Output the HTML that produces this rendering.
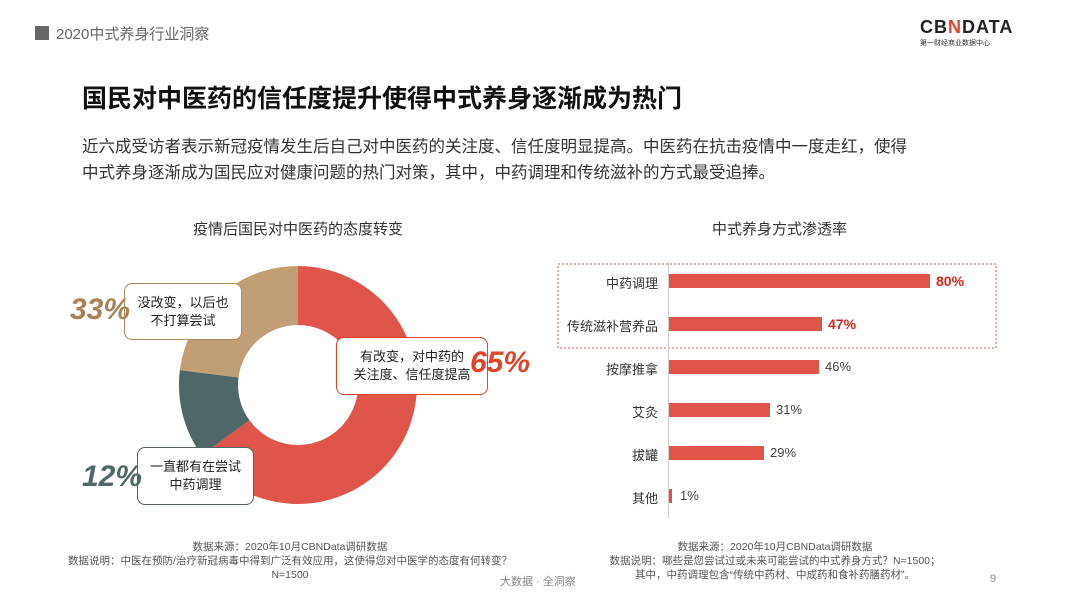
<!DOCTYPE html>
<html><head><meta charset="utf-8"><style>
body{margin:0;width:1080px;height:606px;background:#fff;position:relative;overflow:hidden;font-family:"Liberation Sans","Noto Sans CJK SC",sans-serif;color:#222}
.a{position:absolute;white-space:nowrap}
.box{position:absolute;background:#fff;border-radius:8px;text-align:center;font-size:13px;line-height:18px;color:#222;display:flex;align-items:center;justify-content:center}
.pct{position:absolute;font-style:italic;font-weight:bold;font-size:30px}
.lab{position:absolute;right:422px;font-size:13px;color:#333;text-align:right}
.bar{position:absolute;left:669px;height:14px;background:#e0544a}
.val{position:absolute;font-size:13px;color:#444}
.note{position:absolute;font-size:10.5px;color:#555;text-align:center;line-height:14px}
</style></head><body>
<div class="a" style="left:35px;top:26px;width:14px;height:14px;background:#666"></div>
<div class="a" style="left:56px;top:23px;font-size:15px;color:#666">2020中式养身行业洞察</div>
<div class="a" style="left:920px;top:17px;font-size:18px;font-weight:bold;letter-spacing:1px;color:#222">CB<span style="color:#e0442a">N</span>DATA</div>
<div class="a" style="left:920px;top:38px;font-size:7px;color:#333">第一财经商业数据中心</div>
<div class="a" style="left:82px;top:79px;font-size:25px;font-weight:bold;color:#111">国民对中医药的信任度提升使得中式养身逐渐成为热门</div>
<div class="a" style="left:82px;top:134px;font-size:16.5px;line-height:26px;color:#333">近六成受访者表示新冠疫情发生后自己对中医药的关注度、信任度明显提高。中医药在抗击疫情中一度走红，使得<br>中式养身逐渐成为国民应对健康问题的热门对策，其中，中药调理和传统滋补的方式最受追捧。</div>
<div class="a" style="left:193px;top:218px;font-size:15px;color:#333">疫情后国民对中医药的态度转变</div>
<div class="a" style="left:712px;top:218px;font-size:15px;color:#333">中式养身方式渗透率</div>
<svg class="a" style="left:0;top:0" width="1080" height="606">
<path d="M298 266 A119 119 0 1 1 201.7 455 L249.5 420.3 A60 60 0 1 0 298 325Z" fill="#df5549"/>
<path d="M201.7 455 A119 119 0 0 1 179.9 370.1 L238.5 377.5 A60 60 0 0 0 249.5 420.3Z" fill="#4f6766"/>
<path d="M179.9 370.1 A119 119 0 0 1 298 266 L298 325 A60 60 0 0 0 238.5 377.5Z" fill="#c19f74"/>
<rect x="558" y="264" width="438" height="84" fill="none" stroke="#e0544a" stroke-dasharray="2,2"/>
<line x1="668.5" y1="262" x2="668.5" y2="518" stroke="#ccc"/>
</svg>
<div class="box" style="left:124px;top:283px;width:116px;height:55px;border:1.5px solid #b08a5c">没改变，以后也<br>不打算尝试</div>
<div class="pct" style="left:70px;top:293px;color:#a88157">33%</div>
<div class="box" style="left:336px;top:337px;width:150px;height:56px;border:1.5px solid #e0442a">有改变，对中药的<br>关注度、信任度提高</div>
<div class="pct" style="left:470px;top:346px;color:#e0442a">65%</div>
<div class="box" style="left:137px;top:447px;width:115px;height:56px;border:1.5px solid #4f6766">一直都有在尝试<br>中药调理</div>
<div class="pct" style="left:82px;top:460px;color:#4f6766">12%</div>
<div class="lab" style="top:273px">中药调理</div>
<div class="lab" style="top:316px">传统滋补营养品</div>
<div class="lab" style="top:359px">按摩推拿</div>
<div class="lab" style="top:402px">艾灸</div>
<div class="lab" style="top:445px">拔罐</div>
<div class="lab" style="top:488px">其他</div>
<div class="bar" style="top:274px;width:261px"></div>
<div class="bar" style="top:317px;width:153px"></div>
<div class="bar" style="top:360px;width:150px"></div>
<div class="bar" style="top:403px;width:101px"></div>
<div class="bar" style="top:446px;width:95px"></div>
<div class="bar" style="top:489px;width:3px"></div>
<div class="val" style="left:936px;top:273px;color:#d8281e;font-weight:bold;font-size:14px">80%</div>
<div class="val" style="left:828px;top:316px;color:#d8281e;font-weight:bold;font-size:14px">47%</div>
<div class="val" style="left:825px;top:359px">46%</div>
<div class="val" style="left:776px;top:402px">31%</div>
<div class="val" style="left:770px;top:445px">29%</div>
<div class="val" style="left:680px;top:488px">1%</div>
<div class="note" style="left:60px;width:460px;top:540px">数据来源：2020年10月CBNData调研数据<br>数据说明：中医在预防/治疗新冠病毒中得到广泛有效应用，这使得您对中医学的态度有何转变？<br>N=1500</div>
<div class="note" style="left:600px;width:350px;top:540px">数据来源：2020年10月CBNData调研数据<br>数据说明：哪些是您尝试过或未来可能尝试的中式养身方式？N=1500；<br>其中，中药调理包含“传统中药材、中成药和食补药膳药材”。</div>
<div class="a" style="left:500px;top:573px;font-size:11px;color:#888">大数据 · 全洞察</div>
<div class="a" style="left:990px;top:573px;font-size:11px;color:#888">9</div>
</body></html>
